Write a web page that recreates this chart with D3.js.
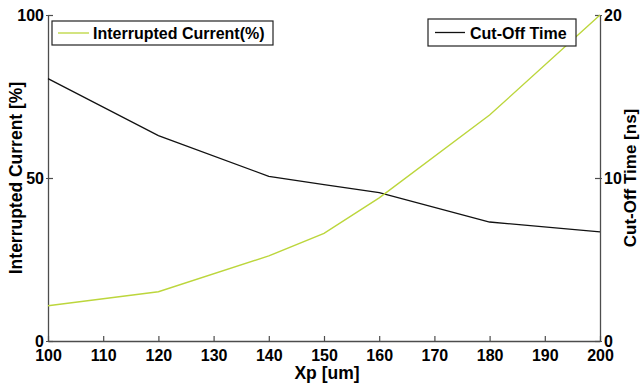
<!DOCTYPE html>
<html>
<head>
<meta charset="utf-8">
<script src="https://cdn.jsdelivr.net/npm/d3@7"></script>
<style>
  html, body { margin: 0; padding: 0; background: #fff; }
  svg { display: block; font-family: "Liberation Sans", Arial, sans-serif; font-weight: bold; }
</style>
</head>
<body>
<svg id="chart" width="640" height="389"></svg>
<script>
// Xp sweep positions [um]
const xp = [100, 120, 140, 150, 160, 180, 200];
// Interrupted current [%] (left axis)
const interruptedCurrent = [10.8, 15.1, 26.1, 33.0, 43.9, 69.3, 100];
// Cut-off time [ns] (right axis)
const cutOffTime = [16.1, 12.6, 10.1, 9.6, 9.1, 7.3, 6.7];

const xTicks = [100, 110, 120, 130, 140, 150, 160, 170, 180, 190, 200];
const leftTicks = [0, 50, 100];
const rightTicks = [0, 10, 20];

const svg = d3.select("#chart");
const m = { left: 48, right: 600, top: 15, bottom: 341 };
const green = "#bcd63c";
const axisColor = "#4d4d4d";

const x = d3.scaleLinear().domain([100, 200]).range([m.left, m.right]);
const yL = d3.scaleLinear().domain([0, 100]).range([m.bottom, m.top]);
const yR = d3.scaleLinear().domain([0, 20]).range([m.bottom, m.top]);

// Axes with inward ticks
const xAxis = svg.append("g").attr("transform", `translate(0,${m.bottom})`)
  .call(d3.axisBottom(x).tickValues(xTicks).tickSizeInner(-5).tickSizeOuter(0).tickPadding(9).tickFormat(d3.format("d")));
const lAxis = svg.append("g").attr("transform", `translate(${m.left},0)`)
  .call(d3.axisLeft(yL).tickValues(leftTicks).tickSizeInner(-5).tickSizeOuter(0).tickPadding(4));
const rAxis = svg.append("g").attr("transform", `translate(${m.right},0)`)
  .call(d3.axisRight(yR).tickValues(rightTicks).tickSizeInner(-5).tickSizeOuter(0).tickPadding(4));

[xAxis, lAxis, rAxis].forEach(g => {
  g.select(".domain").attr("stroke", axisColor).attr("stroke-width", 1.3);
  g.selectAll(".tick line").attr("stroke", axisColor).attr("stroke-width", 1.2);
  g.selectAll(".tick text").attr("fill", "#000").attr("font-size", 16)
    .attr("font-family", "Liberation Sans, Arial, sans-serif").attr("font-weight", "bold");
});
// the small outward tick stubs beside the labels
lAxis.selectAll(".tick").append("line").attr("x1", 0).attr("x2", -2).attr("stroke", axisColor);
rAxis.selectAll(".tick").append("line").attr("x1", 0).attr("x2", 2).attr("stroke", axisColor);
xAxis.selectAll(".tick text").attr("dy", "0.71em");

// Series lines
const lineL = d3.line().x((d, i) => x(xp[i])).y(d => yL(d));
const lineR = d3.line().x((d, i) => x(xp[i])).y(d => yR(d));
svg.append("path").datum(cutOffTime).attr("d", lineR)
  .attr("fill", "none").attr("stroke", "#111").attr("stroke-width", 1.3);
svg.append("path").datum(interruptedCurrent).attr("d", lineL)
  .attr("fill", "none").attr("stroke", green).attr("stroke-width", 1.4);

// Axis titles
svg.append("text").attr("x", (m.left + m.right) / 2 + 3).attr("y", 379)
  .attr("text-anchor", "middle").attr("font-size", 17.5).text("Xp [um]");
svg.append("text").attr("transform", `translate(22,${(m.top + m.bottom) / 2}) rotate(-90)`)
  .attr("text-anchor", "middle").attr("font-size", 17.5).text("Interrupted Current [%]");
svg.append("text").attr("transform", `translate(636,${(m.top + m.bottom) / 2}) rotate(-90)`)
  .attr("text-anchor", "middle").attr("font-size", 17).text("Cut-Off Time [ns]");

// Legends
function legend(x0, y0, w, h, color, label, sx1, sx2, tx) {
  const g = svg.append("g");
  g.append("rect").attr("x", x0).attr("y", y0).attr("width", w).attr("height", h)
    .attr("fill", "#fff").attr("stroke", "#222").attr("stroke-width", 1.2);
  g.append("line").attr("x1", sx1).attr("x2", sx2).attr("y1", y0 + h / 2).attr("y2", y0 + h / 2)
    .attr("stroke", color).attr("stroke-width", 1.3);
  g.append("text").attr("x", tx).attr("y", y0 + h / 2 + 6).attr("font-size", 16).text(label);
}
legend(52, 21, 221, 24, green, "Interrupted Current(%)", 58, 89, 93);
legend(428, 19, 148, 27, "#111", "Cut-Off Time", 435, 465, 470);
</script>
</body>
</html>
